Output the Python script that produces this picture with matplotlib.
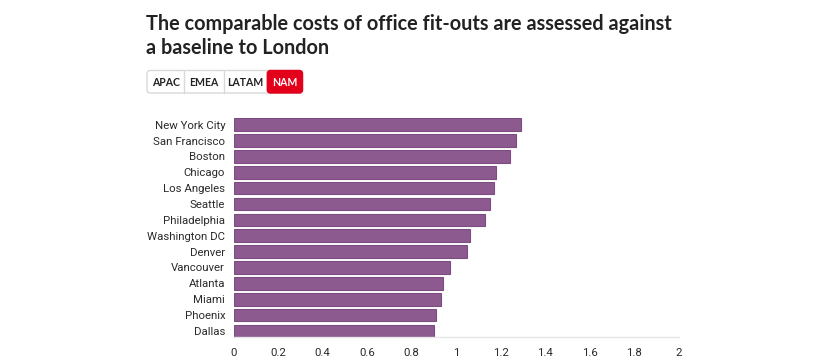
import matplotlib.pyplot as plt
from matplotlib.patches import FancyBboxPatch

# data (NAM tab)
cities = ['New York City', 'San Francisco', 'Boston', 'Chicago', 'Los Angeles',
          'Seattle', 'Philadelphia', 'Washington DC', 'Denver', 'Vancouver',
          'Atlanta', 'Miami', 'Phoenix', 'Dallas']
costs = [1.29, 1.27, 1.24, 1.18, 1.17, 1.15, 1.13, 1.06, 1.05, 0.97,
         0.94, 0.93, 0.91, 0.90]
xticks = [0, 0.2, 0.4, 0.6, 0.8, 1, 1.2, 1.4, 1.6, 1.8, 2]
xtick_labels = ['0', '0.2', '0.4', '0.6', '0.8', '1', '1.2', '1.4', '1.6', '1.8', '2']
tabs = ['APAC', 'EMEA', 'LATAM', 'NAM']
active_tab = 'NAM'

W, H = 830, 364
plt.rcParams['font.family'] = ['Lato', 'DejaVu Sans']

fig = plt.figure(figsize=(W / 100, H / 100), dpi=100)

# main bar chart
ax = fig.add_axes([233.5 / W, 26.7 / H, (679 - 233.5) / W, (337.3 - 118.3) / H])
pos = list(range(len(cities)))
ax.barh(pos, costs, height=0.8, color='#8d5a8f', edgecolor='#7d4c80', linewidth=0.8)
ax.set_ylim(len(cities) - 0.6, -0.4)
ax.set_xlim(0, 2)
ax.set_xticks(xticks)
ax.set_xticklabels(xtick_labels)
ax.set_yticks(pos)
ax.set_yticklabels(cities)
ax.tick_params(axis='both', length=0, labelsize=8.2, colors='#2a2a2a')
ax.tick_params(axis='y', pad=6)
ax.tick_params(axis='x', pad=8)
for lab in ax.get_yticklabels() + ax.get_xticklabels():
    lab.set_family(['Roboto', 'DejaVu Sans'])
for s in ['top', 'right', 'left']:
    ax.spines[s].set_visible(False)
ax.spines['bottom'].set_color('#e6e6e6')
ax.spines['bottom'].set_linewidth(1)

# title
fig.text(146 / W, 1 - 24 / H, 'The comparable costs of office fit-outs are assessed against',
         fontsize=14.3, fontweight='bold', color='#222222', va='center', ha='left')
fig.text(146 / W, 1 - 48 / H, 'a baseline to London',
         fontsize=14.3, fontweight='bold', color='#222222', va='center', ha='left')

# region tabs
bx = fig.add_axes([0, 0, 1, 1])
bx.set_xlim(0, W)
bx.set_ylim(H, 0)
bx.axis('off')
edges = [147, 184.3, 224, 267.3, 302.5]
top, bot = 70.5, 93
bx.add_patch(FancyBboxPatch((edges[0], top), edges[-1] - edges[0], bot - top,
                            boxstyle='round,pad=0,rounding_size=3',
                            facecolor='white', edgecolor='#d9d9d9', linewidth=1))
for i, t in enumerate(tabs):
    x0, x1 = edges[i], edges[i + 1]
    if t == active_tab:
        bx.add_patch(FancyBboxPatch((x0, top), x1 - x0, bot - top,
                                    boxstyle='round,pad=0,rounding_size=3',
                                    facecolor='#e2001a', edgecolor='#e2001a', linewidth=1))
        col = 'white'
    else:
        col = '#222222'
        if i > 0:
            bx.plot([x0, x0], [top, bot], color='#d9d9d9', linewidth=1)
    bx.text((x0 + x1) / 2, (top + bot) / 2 + 0.5, t, ha='center', va='center',
            fontsize=7.6, fontweight='bold', color=col)

fig.savefig('out.png', dpi=100)
